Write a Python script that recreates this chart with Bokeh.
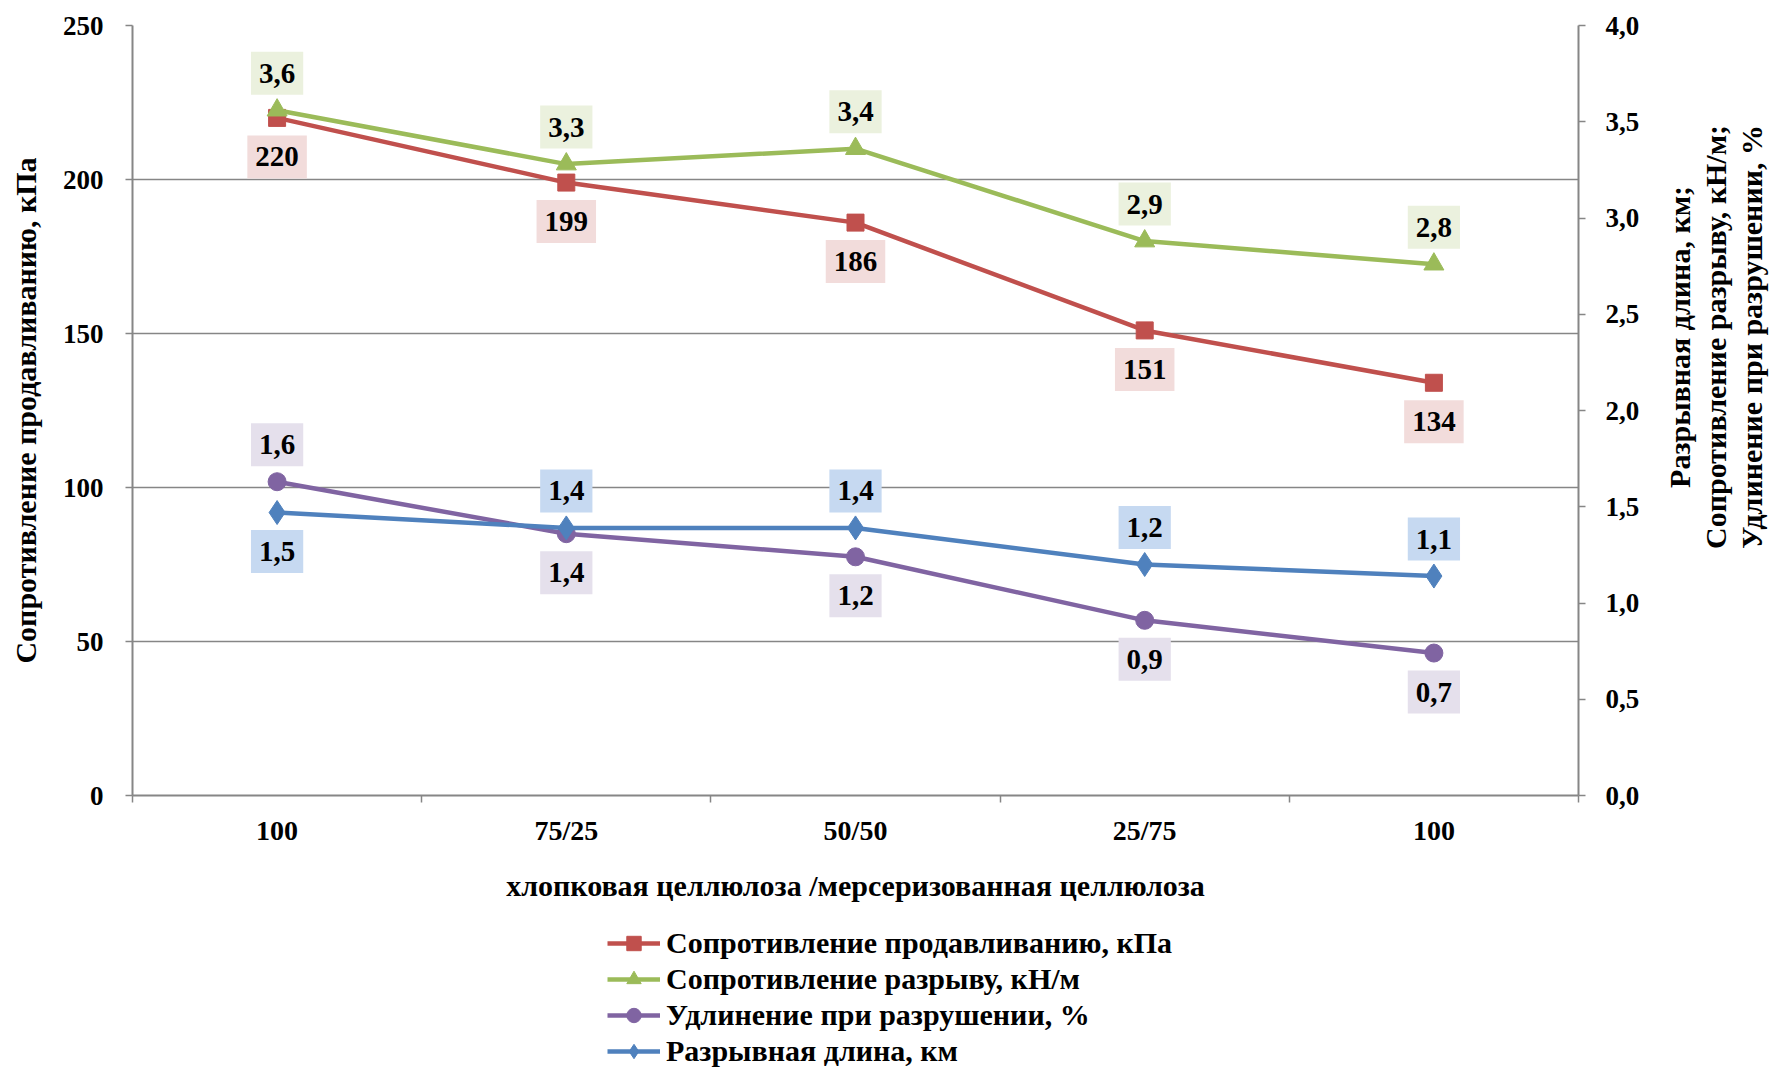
import math
from bokeh.plotting import figure
from bokeh.layouts import column, row
from bokeh.models import (Range1d, LinearAxis, FixedTicker, ColumnDataSource,
                          Legend, LegendItem, CustomJSTickFormatter, Label)
from bokeh.core.properties import value
from bokeh.embed import file_html
from bokeh.resources import INLINE

# ---------------- data ----------------
categories = ["100", "75/25", "50/50", "25/75", "100"]
burst_kpa = [220, 199, 186, 151, 134]                 # left axis
tensile_kn_m = [3.56, 3.28, 3.36, 2.88, 2.76]         # right axis
elongation_pct = [1.63, 1.36, 1.24, 0.91, 0.74]       # right axis
breaking_length_km = [1.47, 1.39, 1.39, 1.20, 1.14]   # right axis
left_ticks = [0, 50, 100, 150, 200, 250]
right_ticks = [0.0, 0.5, 1.0, 1.5, 2.0, 2.5, 3.0, 3.5, 4.0]
series_names = ["Сопротивление продавливанию, кПа",
                "Сопротивление разрыву, кН/м",
                "Удлинение при разрушении, %",
                "Разрывная длина, км"]
x_title = "хлопковая целлюлоза /мерсеризованная целлюлоза"
left_title = "Сопротивление продавливанию, кПа"
right_title = "Разрывная длина, км;\nСопротивление разрыву, кН/м;\nУдлинение при разрушении, %"

# label placement (style)
pos_burst = ["below"] * 5
pos_tensile = ["above"] * 5
pos_elong = ["above", "below", "below", "below", "below"]
pos_length = ["below", "above", "above", "above", "above"]

FONT = "Liberation Serif"
RED, GREEN, PURPLE, BLUE = "#c0504d", "#9bbb59", "#8064a2", "#4f81bd"
RED_BG, GREEN_BG, PURPLE_BG, BLUE_BG = "#f2dcdb", "#ebf1de", "#e5e0ec", "#c6d9f1"
AXIS_GRAY = "#868686"

MAIN_W, SIDE_W, MAIN_H, LEG_H = 1655, 119, 910, 160

x = list(range(1, len(categories) + 1))

p = figure(width=MAIN_W, height=MAIN_H, x_range=Range1d(0.5, len(categories) + 0.5),
           y_range=Range1d(0, 250), output_backend="svg", toolbar_location=None,
           min_border_left=132, min_border_right=77, min_border_top=25,
           min_border_bottom=115)
p.extra_y_ranges = {"right": Range1d(0, 4)}
p.outline_line_color = None
p.background_fill_color = "white"
p.border_fill_color = "white"

# x axis
xa = p.xaxis[0]
xa.ticker = FixedTicker(ticks=x, minor_ticks=[i + 0.5 for i in range(len(categories) + 1)])
xa.major_label_overrides = {i: c for i, c in zip(x, categories)}
xa.major_tick_line_color = None
xa.minor_tick_line_color = AXIS_GRAY
xa.minor_tick_line_width = 1.5
xa.minor_tick_out = 7
xa.minor_tick_in = 0
xa.axis_line_color = AXIS_GRAY
xa.axis_line_width = 2
xa.major_label_text_font = FONT
xa.major_label_text_font_style = "bold"
xa.major_label_text_font_size = "28px"
xa.major_label_text_color = "black"
xa.major_label_standoff = 12
xa.axis_label = x_title
xa.axis_label_text_font = FONT
xa.axis_label_text_font_style = "bold"
xa.axis_label_text_font_size = "30px"
xa.axis_label_text_color = "black"
xa.axis_label_standoff = 20

# left axis
ya = p.yaxis[0]
ya.ticker = FixedTicker(ticks=left_ticks)
ya.axis_line_color = AXIS_GRAY
ya.axis_line_width = 2
ya.major_tick_line_color = AXIS_GRAY
ya.major_tick_line_width = 1.5
ya.major_tick_out = 7
ya.major_tick_in = 0
ya.minor_tick_line_color = None
ya.major_label_text_font = FONT
ya.major_label_text_font_style = "bold"
ya.major_label_text_font_size = "27px"
ya.major_label_text_color = "black"
ya.major_label_standoff = 22
ya.axis_label = left_title
ya.axis_label_text_font = FONT
ya.axis_label_text_font_style = "bold"
ya.axis_label_text_font_size = "30px"
ya.axis_label_text_color = "black"
ya.axis_label_standoff = 18

# right axis
ra = LinearAxis(y_range_name="right", ticker=FixedTicker(ticks=right_ticks),
                formatter=CustomJSTickFormatter(code="return tick.toFixed(1).replace('.', ',');"))
ra.axis_line_color = AXIS_GRAY
ra.axis_line_width = 2
ra.major_tick_line_color = AXIS_GRAY
ra.major_tick_line_width = 1.5
ra.major_tick_out = 7
ra.major_tick_in = 0
ra.minor_tick_line_color = None
ra.major_label_text_font = FONT
ra.major_label_text_font_style = "bold"
ra.major_label_text_font_size = "27px"
ra.major_label_text_color = "black"
ra.major_label_standoff = 20
p.add_layout(ra, "right")

p.ygrid.ticker = FixedTicker(ticks=left_ticks)
p.ygrid.grid_line_color = AXIS_GRAY
p.ygrid.grid_line_width = 1.5
p.xgrid.visible = False

STYLES = [
    dict(color=RED, bg=RED_BG, marker="square", size=17),
    dict(color=GREEN, bg=GREEN_BG, marker="triangle", size=20),
    dict(color=PURPLE, bg=PURPLE_BG, marker="circle", size=18),
    dict(color=BLUE, bg=BLUE_BG, marker="diamond", size=24),
]

def fmt_int(v):
    return f"{v:.0f}"

def fmt_dec(v):
    return f"{v:.1f}".replace(".", ",")

series = [
    (burst_kpa, pos_burst, fmt_int, None),
    (tensile_kn_m, pos_tensile, fmt_dec, "right"),
    (elongation_pct, pos_elong, fmt_dec, "right"),
    (breaking_length_km, pos_length, fmt_dec, "right"),
]

sources = []
for (vals, positions, fmt, rng), st in zip(series, STYLES):
    kw = {} if rng is None else {"y_range_name": rng}
    labels = [fmt(v) for v in vals]
    offs = [-37 if s == "above" else 39 for s in positions]
    src = ColumnDataSource(dict(x=x, y=vals, label=labels, yoff=offs))
    p.line("x", "y", source=src, line_color=st["color"], line_width=4.5, **kw)
    p.scatter("x", "y", source=src, marker=st["marker"], size=st["size"],
              fill_color=st["color"], line_color=st["color"], **kw)
    sources.append((src, st, kw))

for src, st, kw in sources:
    tr = p.text("x", "y", text="label", source=src, y_offset="yoff",
                text_align="center", text_baseline="middle",
                text_font=value(FONT), text_font_style="bold", text_font_size="29px",
                text_color="black", background_fill_color=st["bg"],
                padding=(8, 8, 11, 11), **kw)
    try:
        tr.glyph.padding = dict(x=8, y=12)
    except Exception:
        pass

# ---------------- right title strip ----------------
rf = figure(width=SIDE_W, height=MAIN_H, x_range=Range1d(0, SIDE_W), y_range=Range1d(0, MAIN_H),
            output_backend="svg", toolbar_location=None, min_border=0,
            x_axis_location=None, y_axis_location=None)
rf.outline_line_color = None
rf.grid.visible = False
rf.background_fill_color = "white"
rf.border_fill_color = "white"
rf.add_layout(Label(x=60, y=542, text=right_title, angle=math.pi / 2,
                    text_align="center", text_baseline="middle",
                    text_font=FONT, text_font_style="bold", text_font_size="30px",
                    text_color="black", text_line_height=1.1))

# ---------------- legend strip ----------------
lf = figure(width=MAIN_W + SIDE_W, height=LEG_H, x_range=Range1d(0.5, len(categories) + 0.5),
            y_range=Range1d(-2, -1),
            output_backend="svg", toolbar_location=None, min_border=0,
            x_axis_location=None, y_axis_location=None)
lf.outline_line_color = None
lf.grid.visible = False
lf.background_fill_color = "white"
lf.border_fill_color = "white"

items = []
for name, st, (src, _, _) in zip(series_names, STYLES, sources):
    # same series, outside this strip's visible range: only the legend glyphs show
    lr = lf.line("x", "y", source=src, line_color=st["color"], line_width=4.5)
    sr = lf.scatter("x", "y", source=src, marker=st["marker"], size=st["size"],
                    fill_color=st["color"], line_color=st["color"])
    items.append(LegendItem(label=name, renderers=[lr, sr]))

legend = Legend(items=items, location=(607, 1), orientation="vertical",
                label_text_font=FONT, label_text_font_style="bold",
                label_text_font_size="30px", label_text_color="black",
                glyph_width=53, glyph_height=36,
                label_height=36, spacing=0, padding=0, margin=0, label_standoff=6,
                border_line_color=None, background_fill_alpha=0)
lf.add_layout(legend)

layout = column(row(p, rf, spacing=0), lf, spacing=0)
open("out.html", "w").write(file_html(layout, INLINE))
